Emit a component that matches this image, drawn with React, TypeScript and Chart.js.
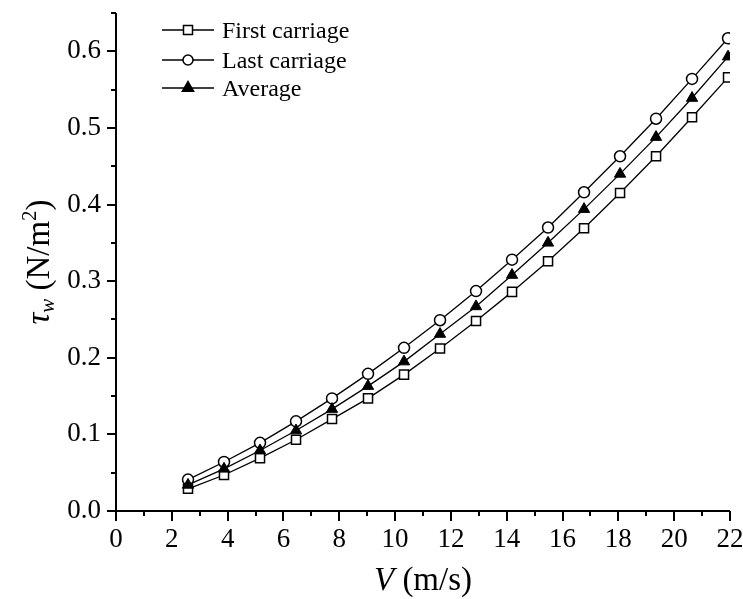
import React, { useEffect, useRef } from 'react';
import { Chart, registerables } from 'chart.js';

Chart.register(...registerables);

// ---- data ----
const speeds = [2.58, 3.87, 5.16, 6.45, 7.74, 9.03, 10.32, 11.61, 12.9, 14.19, 15.48, 16.77, 18.06, 19.35, 20.64, 21.93];
const firstCarriage = [0.029, 0.047, 0.069, 0.093, 0.12, 0.147, 0.178, 0.212, 0.248, 0.286, 0.326, 0.369, 0.415, 0.463, 0.514, 0.566];
const lastCarriage = [0.041, 0.064, 0.089, 0.117, 0.147, 0.179, 0.213, 0.249, 0.287, 0.328, 0.37, 0.416, 0.463, 0.512, 0.564, 0.617];
const average = [0.034, 0.055, 0.079, 0.105, 0.133, 0.163, 0.195, 0.231, 0.267, 0.308, 0.35, 0.394, 0.44, 0.488, 0.539, 0.593];

const seriesNames = ['First carriage', 'Last carriage', 'Average'];
const xTickValues = [0, 2, 4, 6, 8, 10, 12, 14, 16, 18, 20, 22];
const xMinorTicks = [1, 3, 5, 7, 9, 11, 13, 15, 17, 19, 21];
const yTickValues = [0, 0.1, 0.2, 0.3, 0.4, 0.5, 0.6];
const yMinorTicks = [0.05, 0.15, 0.25, 0.35, 0.45, 0.55, 0.65];
const xMin = 0, xMax = 22, yMin = 0, yMax = 0.65;

const SERIF = "'Liberation Serif', 'Times New Roman', serif";

function drawMarker(ctx: CanvasRenderingContext2D, kind: string, x: number, y: number, s: number) {
  ctx.beginPath();
  if (kind === 'rect') {
    ctx.rect(x - s, y - s, 2 * s, 2 * s);
    ctx.fillStyle = '#fff';
    ctx.fill();
    ctx.stroke();
  } else if (kind === 'circle') {
    ctx.arc(x, y, s, 0, Math.PI * 2);
    ctx.fillStyle = '#fff';
    ctx.fill();
    ctx.stroke();
  } else {
    const r = s;
    ctx.moveTo(x, y - r);
    ctx.lineTo(x + r * 0.866, y + r * 0.5);
    ctx.lineTo(x - r * 0.866, y + r * 0.5);
    ctx.closePath();
    ctx.fillStyle = '#000';
    ctx.fill();
    ctx.stroke();
  }
}

const decorPlugin = {
  id: 'decor',
  afterDraw(chart: any) {
    const ctx: CanvasRenderingContext2D = chart.ctx;
    const xs = chart.scales.x;
    const ys = chart.scales.y;
    const { left, right, top, bottom } = chart.chartArea;
    ctx.save();
    ctx.strokeStyle = '#000';
    ctx.lineWidth = 2;
    ctx.beginPath();
    ctx.moveTo(left, top);
    ctx.lineTo(left, bottom);
    ctx.moveTo(left - 1, bottom);
    ctx.lineTo(right, bottom);
    xTickValues.forEach((v) => {
      const px = Math.round(xs.getPixelForValue(v));
      ctx.moveTo(px, bottom);
      ctx.lineTo(px, bottom + 10);
    });
    xMinorTicks.forEach((v) => {
      const px = Math.round(xs.getPixelForValue(v));
      ctx.moveTo(px, bottom);
      ctx.lineTo(px, bottom + 5);
    });
    yTickValues.forEach((v) => {
      const py = Math.round(ys.getPixelForValue(v));
      ctx.moveTo(left, py);
      ctx.lineTo(left - 9, py);
    });
    yMinorTicks.forEach((v) => {
      const py = Math.round(ys.getPixelForValue(v));
      ctx.moveTo(left, py);
      ctx.lineTo(left - 5, py);
    });
    ctx.stroke();

    // x title: V (m/s)
    ctx.fillStyle = '#000';
    ctx.textBaseline = 'alphabetic';
    ctx.textAlign = 'left';
    const fItalic = `italic 33px ${SERIF}`;
    const fNorm = `33px ${SERIF}`;
    ctx.font = fItalic;
    const wV = ctx.measureText('V').width;
    ctx.font = fNorm;
    const wRest = ctx.measureText(' (m/s)').width;
    const cx = (left + right) / 2;
    const x0 = cx - (wV + wRest) / 2;
    const by = 590;
    ctx.font = fItalic;
    ctx.fillText('V', x0, by);
    ctx.font = fNorm;
    ctx.fillText(' (m/s)', x0 + wV, by);

    // y title: τw (N/m²)
    ctx.save();
    const cy = (top + bottom) / 2;
    ctx.translate(49, cy);
    ctx.rotate(-Math.PI / 2);
    const big = 33, small = 21;
    const parts = [
      { t: 'τ', f: `italic ${big}px ${SERIF}`, dy: 0 },
      { t: 'w', f: `italic ${small}px ${SERIF}`, dy: 5 },
      { t: ' (N/m', f: `${big}px ${SERIF}`, dy: 0 },
      { t: '2', f: `${small}px ${SERIF}`, dy: -13 },
      { t: ')', f: `${big}px ${SERIF}`, dy: 0 },
    ];
    let total = 0;
    const widths = parts.map((p) => {
      ctx.font = p.f;
      const w = ctx.measureText(p.t).width;
      total += w;
      return w;
    });
    let px = -total / 2;
    parts.forEach((p, i) => {
      ctx.font = p.f;
      ctx.fillText(p.t, px, p.dy);
      px += widths[i];
    });
    ctx.restore();

    // legend
    const rows = [
      { name: seriesNames[0], kind: 'rect', size: 4.5, y: 30 },
      { name: seriesNames[1], kind: 'circle', size: 5, y: 60 },
      { name: seriesNames[2], kind: 'tri', size: 6.5, y: 88 },
    ];
    ctx.font = `24px ${SERIF}`;
    rows.forEach((r) => {
      ctx.lineWidth = 1.3;
      ctx.beginPath();
      ctx.moveTo(162, r.y);
      ctx.lineTo(214, r.y);
      ctx.stroke();
      ctx.lineWidth = 1.5;
      drawMarker(ctx, r.kind, 188, r.y, r.size);
      ctx.fillStyle = '#000';
      ctx.fillText(r.name, 222, r.y + 8);
    });
    ctx.restore();
  },
};

export default function App() {
  const canvasRef = useRef<HTMLCanvasElement | null>(null);

  useEffect(() => {
    const canvas = canvasRef.current;
    if (!canvas) return;
    const mk = (vals: number[]) => speeds.map((x, i) => ({ x, y: vals[i] }));
    const chart = new Chart(canvas, {
      type: 'line',
      data: {
        datasets: [
          {
            label: seriesNames[0],
            data: mk(firstCarriage),
            borderColor: '#000',
            borderWidth: 1.3,
            pointStyle: 'rect',
            pointRadius: 6.4,
            pointBorderWidth: 1.5,
            pointBackgroundColor: '#fff',
            pointBorderColor: '#000',
            order: 1,
          },
          {
            label: seriesNames[1],
            data: mk(lastCarriage),
            borderColor: '#000',
            borderWidth: 1.3,
            pointStyle: 'circle',
            pointRadius: 5.5,
            pointBorderWidth: 1.5,
            pointBackgroundColor: '#fff',
            pointBorderColor: '#000',
            order: 2,
          },
          {
            label: seriesNames[2],
            data: mk(average),
            borderColor: '#000',
            borderWidth: 1.3,
            pointStyle: 'triangle',
            pointRadius: 6.5,
            pointBorderWidth: 1,
            pointBackgroundColor: '#000',
            pointBorderColor: '#000',
            order: 0,
          },
        ],
      },
      options: {
        animation: false,
        responsive: false,
        devicePixelRatio: 1,
        layout: { padding: { left: 0, right: 13, top: 13, bottom: 0 } },
        plugins: { legend: { display: false }, tooltip: { enabled: false } },
        elements: { line: { tension: 0, fill: false } },
        scales: {
          x: {
            type: 'linear',
            min: xMin,
            max: xMax,
            grid: { display: false, drawTicks: false },
            border: { display: false },
            afterBuildTicks: (s: any) => {
              s.ticks = xTickValues.map((v) => ({ value: v }));
            },
            afterFit: (s: any) => {
              s.height = 88;
              s.paddingLeft = 0;
              s.paddingRight = 0;
            },
            ticks: {
              color: '#000',
              padding: 13,
              maxRotation: 0,
              autoSkip: false,
              font: { family: SERIF, size: 27 },
              callback: (v: any) => String(v),
            },
          },
          y: {
            type: 'linear',
            min: yMin,
            max: yMax,
            grid: { display: false, drawTicks: false },
            border: { display: false },
            afterBuildTicks: (s: any) => {
              s.ticks = yTickValues.map((v) => ({ value: v }));
            },
            afterFit: (s: any) => {
              s.width = 116;
              s.paddingTop = 0;
              s.paddingBottom = 0;
            },
            ticks: {
              color: '#000',
              padding: 15,
              autoSkip: false,
              font: { family: SERIF, size: 27 },
              callback: (v: any) => Number(v).toFixed(1),
            },
          },
        },
      },
      plugins: [decorPlugin],
    });
    return () => chart.destroy();
  }, []);

  return (
    <div style={{ position: 'fixed', left: 0, top: 0, width: 743, height: 599, background: '#fff' }}>
      <canvas ref={canvasRef} width={743} height={599} />
    </div>
  );
}
